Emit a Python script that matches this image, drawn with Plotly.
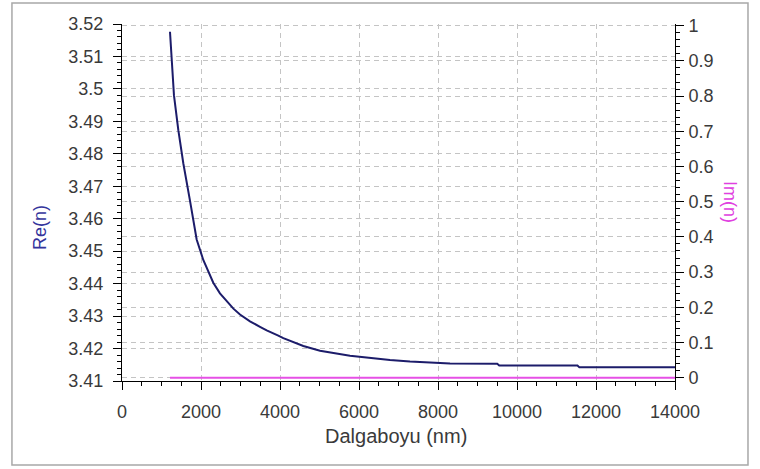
import plotly.graph_objects as go

wavelength = [1215, 1257, 1316, 1426, 1552, 1722, 1848, 1890, 2058, 2311, 2480, 2650, 2820, 2987,
              3240, 3494, 3663, 3957, 4084, 4590, 5013, 5772, 6278, 6785, 7291, 7797,
              8304, 9500, 9550, 11530, 11580, 14000]
re_n = [3.5176, 3.5092, 3.4980, 3.4873, 3.4771, 3.4655, 3.4565, 3.4536, 3.4473, 3.4403,
        3.4370, 3.4345, 3.4323, 3.4305, 3.4284, 3.4267, 3.4256, 3.4240, 3.4232, 3.4208,
        3.4193, 3.4178, 3.4171, 3.4165, 3.4160, 3.4156, 3.4154, 3.4153, 3.4148, 3.4148,
        3.4142, 3.4142]

# Imaginary part (zero over the whole range)
im_wavelength = [1215, 14000]
im_n = [0.0, 0.0]

x_ticks = [0, 2000, 4000, 6000, 8000, 10000, 12000, 14000]
left_ticks = [3.41, 3.42, 3.43, 3.44, 3.45, 3.46, 3.47, 3.48, 3.49, 3.50, 3.51, 3.52]
left_labels = ["3.41", "3.42", "3.43", "3.44", "3.45", "3.46", "3.47", "3.48", "3.49",
               "3.5", "3.51", "3.52"]
right_ticks = [0, 0.1, 0.2, 0.3, 0.4, 0.5, 0.6, 0.7, 0.8, 0.9, 1.0]
right_labels = ["0", "0.1", "0.2", "0.3", "0.4", "0.5", "0.6", "0.7", "0.8", "0.9", "1"]

FONT = "Liberation Sans"
TICKFONT = dict(family=FONT, size=18, color="#3a3a3a")
GRID = "#c4c4c4"

fig = go.Figure()
fig.add_trace(go.Scatter(x=wavelength, y=re_n, mode="lines",
                         line=dict(color="#1c1c6a", width=2),
                         yaxis="y", showlegend=False, hoverinfo="skip"))
fig.add_trace(go.Scatter(x=im_wavelength, y=im_n, mode="lines",
                         line=dict(color="#e650e6", width=2), yaxis="y2",
                         showlegend=False, hoverinfo="skip"))

fig.update_layout(
    width=760, height=469,
    margin=dict(l=122, r=85, t=24, b=88),
    paper_bgcolor="white", plot_bgcolor="white",
    xaxis=dict(range=[0, 14000], tickvals=x_ticks, ticktext=[str(v) for v in x_ticks],
               showline=True, linecolor="black", linewidth=1, mirror=False,
               ticks="outside", ticklen=8, tickcolor="black", tickwidth=1,
               minor=dict(dtick=500, ticklen=4, tickcolor="black", ticks="outside", showgrid=False),
               showgrid=True, gridcolor=GRID, griddash="5px,4px", gridwidth=1,
               zeroline=False, tickfont=TICKFONT, ticklabelstandoff=6),
    yaxis=dict(range=[3.41, 3.52], tickvals=left_ticks, ticktext=left_labels,
               showline=True, linecolor="black", linewidth=1,
               ticks="outside", ticklen=8, tickcolor="black", tickwidth=1,
               minor=dict(dtick=0.002, tick0=3.41, ticklen=4, tickcolor="black", ticks="outside", showgrid=False),
               showgrid=True, gridcolor=GRID, griddash="5px,4px", gridwidth=1,
               zeroline=False, tickfont=TICKFONT, ticklabelstandoff=6),
    yaxis2=dict(range=[-0.0094, 1.0048], overlaying="y", side="right",
                tickvals=right_ticks, ticktext=right_labels,
                showline=True, linecolor="black", linewidth=1,
                ticks="outside", ticklen=8, tickcolor="black", tickwidth=1,
                minor=dict(dtick=0.02, tick0=0, ticklen=4, tickcolor="black", ticks="outside", showgrid=False),
                showgrid=True, gridcolor=GRID, griddash="5px,4px", gridwidth=1,
                zeroline=False, tickfont=TICKFONT, ticklabelstandoff=1),
    annotations=[
        dict(text="Dalgaboyu (nm)", xref="paper", yref="paper", x=0.4955, y=-0.154,
             showarrow=False, xanchor="center", yanchor="middle",
             font=dict(family=FONT, size=20, color="#3a3a3a")),
        dict(text="Re(n)", xref="paper", yref="paper", x=-0.1483, y=0.431,
             showarrow=False, xanchor="center", yanchor="middle", textangle=-90,
             font=dict(family=FONT, size=18, color="#34349c")),
        dict(text="Im(n)", xref="paper", yref="paper", x=1.0995, y=0.501,
             showarrow=False, xanchor="center", yanchor="middle", textangle=90,
             font=dict(family=FONT, size=18, color="#e040e0")),
    ],
    shapes=[
        dict(type="rect", xref="paper", yref="paper", x0=-0.199, x1=1.132, y0=-0.2353, y1=1.0588,
             line=dict(color="#a8a8a8", width=1.5), fillcolor="rgba(0,0,0,0)", layer="below"),
    ],
)

fig.write_html("out.html")
